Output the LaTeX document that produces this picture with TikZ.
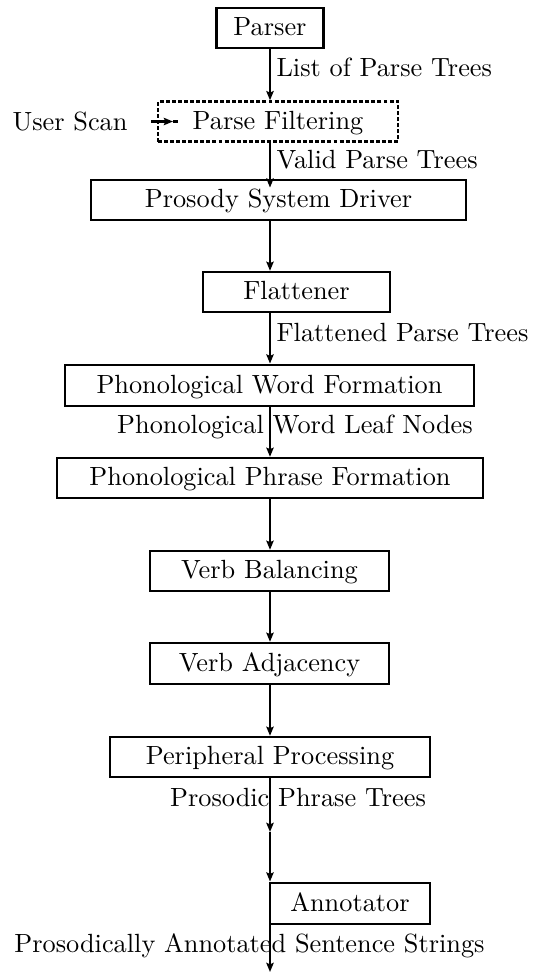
\documentclass[tikz,border=0pt]{standalone}
\usetikzlibrary{arrows.meta,calc}
\newcommand{\upx}{0.38pt}
\begin{document}
\begin{tikzpicture}[x=0.38pt,y=-0.38pt,
  box/.style={draw, line width=0.9pt, inner sep=0pt, text height=6.8pt, text depth=1pt},
  heavybox/.style={box, line width=1.1pt},
  dashbox/.style={box, line width=0.95pt, dash pattern=on 1.5pt off 0.8pt},
  lbl/.style={inner sep=0pt, anchor=base west},
  arr/.style={line width=0.85pt, -{Stealth[length=3.5pt,width=2.8pt,inset=0.6pt]}},
]
\useasboundingbox (0,0) rectangle (540,977);
\coordinate (spine) at (270,0);

% processing stages
\node[heavybox, minimum width=107*\upx, minimum height=40*\upx] (parser) at (270,28) {Parser};
\node[dashbox, minimum width=240*\upx, minimum height=40*\upx] (filter) at (278,121.5) {Parse Filtering};
\node[heavybox, minimum width=375*\upx, minimum height=40*\upx] (driver) at (278.5,200) {Prosody System Driver};
\node[box, minimum width=187*\upx, minimum height=40*\upx] (flat) at (296.5,292) {Flattener};
\node[heavybox, minimum width=409*\upx, minimum height=41*\upx] (pwf) at (269.5,385.5) {Phonological Word Formation};
\node[box, minimum width=426*\upx, minimum height=40*\upx] (ppf) at (270,478) {Phonological Phrase Formation};
\node[box, minimum width=239*\upx, minimum height=40*\upx] (vb) at (269.5,571) {Verb Balancing};
\node[box, minimum width=239*\upx, minimum height=41*\upx] (va) at (269.5,663.5) {Verb Adjacency};
\node[box, minimum width=320*\upx, minimum height=40*\upx] (pp) at (270,757) {Peripheral Processing};
\node[heavybox, minimum width=160*\upx, minimum height=41*\upx] (ann) at (350,903.5) {Annotator};

% data labels along the flow
\node[lbl] (us) at (12,130) {User Scan};
\node[lbl] (l1) at (276,76) {List of Parse Trees};
\node[lbl] (l2) at (276,168) {Valid Parse Trees};
\node[lbl] (l3) at (276,341) {Flattened Parse Trees};
\node[lbl, anchor=base] (l4) at (295,433) {Phonological Word Leaf Nodes};
\node[lbl, anchor=base] (l5) at (298,806) {Prosodic Phrase Trees};
\node[lbl, anchor=base] (l6) at (249.5,952) {Prosodically Annotated Sentence Strings};

% user scan input
\coordinate (usa) at (151,121.5);
\coordinate (ustip) at (173,121.5);
\coordinate (usend) at (178,121.5);
\draw[arr] (usa) -- (ustip);
\draw[line width=0.85pt] (ustip) -- (usend);

% main flow
\draw[arr] (parser.south) -- (spine |- filter.north);
\draw[arr] (spine |- filter.south) -- ($(spine |- driver.north)+(0,9)$);
\draw[arr] (spine |- driver.south) -- (spine |- flat.north);
\draw[arr] (spine |- flat.south) -- (spine |- pwf.north);
\draw[arr] (spine |- pwf.south) -- (spine |- ppf.north);
\draw[arr] (spine |- ppf.south) -- (spine |- vb.north);
\draw[arr] (spine |- vb.south) -- (spine |- va.north);
\draw[arr] (spine |- va.south) -- (spine |- pp.north);
\coordinate (mid) at (270,832);
\draw[arr] (spine |- pp.south) -- (mid);
\draw[arr] (mid) -- (spine |- ann.north);
\coordinate (out) at (270,972);
\draw[arr] (spine |- ann.south) -- (out);
\end{tikzpicture}
\end{document}
